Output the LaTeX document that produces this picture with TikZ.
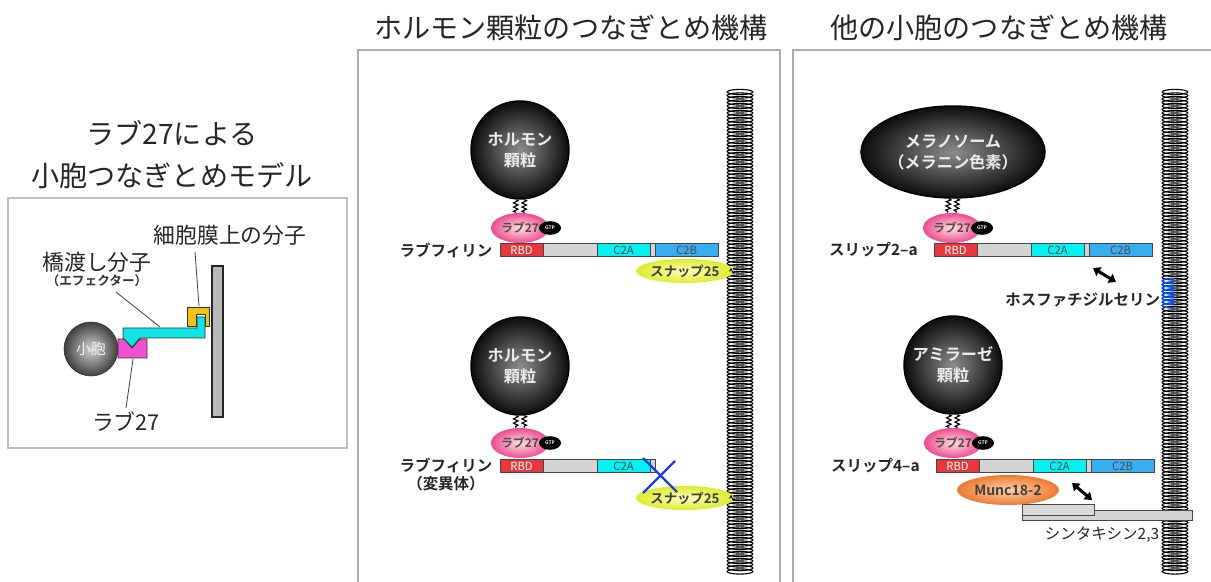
\documentclass[tikz,border=0pt]{standalone}
\usepackage{fontspec}
\setmainfont{Noto Sans CJK JP}[BoldFont={Noto Sans CJK JP Bold}]
\usetikzlibrary{positioning,shapes.geometric,arrows.meta,decorations.pathmorphing}

\definecolor{rbdred}{HTML}{E8363A}
\definecolor{linkgray}{HTML}{D4D4D4}
\definecolor{c2acyan}{HTML}{00F2F2}
\definecolor{c2bblue}{HTML}{38AEF2}
\definecolor{rabpink}{HTML}{EC4C92}
\definecolor{snapyel}{HTML}{DDEC2C}
\definecolor{muncorg}{HTML}{EE7A34}
\definecolor{effcyan}{HTML}{10E4E4}
\definecolor{rabmag}{HTML}{F050D2}
\definecolor{pmyel}{HTML}{F2C218}
\definecolor{crossblue}{HTML}{1E3CE6}

\begin{document}
\begin{tikzpicture}[x=0.025cm,y=-0.025cm,
	title/.style={font=\fontsize{20}{24}\selectfont, text=black!85},
	panel/.style={draw=gray!65, line width=1pt},
	granule/.style={circle, minimum size=2.45cm, inner sep=0, draw=black, line width=1pt,
		inner color=black!45, outer color=black!95, text=white!85!gray, align=center,
		font=\bfseries\fontsize{11.5}{15}\selectfont},
	rab/.style={ellipse, minimum width=1.45cm, minimum height=0.75cm, inner sep=0,
		inner color=pink!50!white, outer color=rabpink, text=black!70,
		font=\bfseries\fontsize{8.5}{9}\selectfont},
	gtp/.style={ellipse, fill=black, minimum width=0.55cm, minimum height=0.34cm, inner sep=0,
		text=white, font=\bfseries\fontsize{3.5}{4}\selectfont},
	dom/.style={rectangle, draw=gray!55!black, line width=0.4pt, minimum height=0.32cm,
		inner sep=0, outer sep=0, font=\fontsize{8}{9}\selectfont},
	rbd/.style={dom, fill=rbdred, text=white, minimum width=1.075cm},
	linker/.style={dom, fill=linkgray, minimum width=1.35cm},
	c2a/.style={dom, fill=c2acyan, text=black!70, minimum width=1.325cm},
	gapd/.style={dom, fill=linkgray, minimum width=0.125cm},
	c2b/.style={dom, fill=c2bblue, text=black!70, minimum width=1.575cm},
	protname/.style={font=\bfseries\fontsize{11}{13}\selectfont, text=black!85, align=center},
	snap/.style={ellipse, minimum width=1.95cm, minimum height=0.6cm, inner sep=0,
		inner color=yellow!25!white, outer color=snapyel, text=black!75,
		font=\bfseries\fontsize{9.5}{11}\selectfont},
	tether/.style={decorate, decoration={zigzag, segment length=3pt, amplitude=1.6pt}, line width=0.8pt},
	coil/.style={line width=0.8pt, draw=black},
	bind/.style={{Triangle[width=7pt,length=5pt]}-{Triangle[width=7pt,length=5pt]}, line width=2.2pt},
	leader/.style={draw=gray!55!black, line width=0.6pt},
	tag/.style={font=\fontsize{15.5}{18}\selectfont, text=black!85}]

	\useasboundingbox (0,0) rectangle (1211,582);

	% titles and frames
	\node[title] (tL1) at (172,133) {ラブ27による};
	\node[title] (tL2) at (172,176) {小胞つなぎとめモデル};
	\node[title] (tM) at (571,28) {ホルモン顆粒のつなぎとめ機構};
	\node[title] (tR) at (999,28) {他の小胞のつなぎとめ機構};

	\draw[panel, draw=gray!50] (8,198) rectangle (347,448);
	\draw[panel] (358,582) |- (780,50) -- (780,582);
	\draw[panel] (793,582) |- (1211,50);

	% model: vesicle, rab27, effector, membrane molecule
	\filldraw[fill=gray!55, draw=gray!30!black, line width=0.8pt] (212,266) rectangle (223,417);
	\node[circle, minimum size=1.35cm, inner sep=0, draw=black!80, inner color=gray!35,
		outer color=black!75, text=white!90!gray, font=\fontsize{10.5}{12}\selectfont] (ves) at (91,349) {小胞};
	\filldraw[fill=pmyel, draw=gray!40!black, line width=0.5pt]
		(187,307) -- (209,307) -- (209,326) -- (205,326) -- (205,314) -- (196,314) -- (196,326) -- (187,326) -- cycle;
	\filldraw[fill=rabmag, draw=gray!40!black, line width=0.5pt]
		(118,339) -- (124,339) -- (132,348) -- (140,339) -- (147,339) -- (147,358) -- (118,358) -- cycle;
	\filldraw[fill=effcyan, draw=gray!40!black, line width=0.5pt]
		(123,328) -- (197,328) -- (197,317) -- (205,317) -- (205,338) -- (140,338) -- (132,347) -- (123,338) -- cycle;
	\coordinate (pmtip) at (199,306);
	\coordinate (efftip) at (160,327);
	\coordinate (rabtip) at (133,359);
	\node[tag] (pmlab) at (230,235) {細胞膜上の分子};
	\node[tag] (efflab) at (97,262) {橋渡し分子};
	\node[font=\bfseries\fontsize{9}{10}\selectfont, text=black!80] (efflab2) at (97,281) {（エフェクター）};
	\node[tag] (rablab) at (126,422) {ラブ27};
	\draw[leader] (pmlab.south) ++(-35,2) -- (pmtip);
	\draw[leader] (efflab2.south) ++(19,0) -- (efftip);
	\draw[leader] (rablab.north) ++(0,1) -- (rabtip);

	% plasma membranes
	\foreach \cy in {92,95.5,...,572}{
		\draw[coil] (740,\cy) ellipse [x radius=0.32cm, y radius=0.065cm];
		\draw[coil] (1175,\cy) ellipse [x radius=0.32cm, y radius=0.065cm];
	}
	\begin{scope}
		\clip (1160,278) rectangle (1174,309);
		\foreach \cy in {281,284.5,...,306}
			\draw[line width=0.9pt, draw=blue!70!cyan] (1175,\cy) ellipse [x radius=0.32cm, y radius=0.065cm];
	\end{scope}

	% rabphilin (wild type)
	\node[granule] (hg1) at (520,150) {ホルモン\\顆粒};
	\node[rab] (rab1) at (520,228) {ラブ27};
	\node[gtp] (gtp1) at (550,228) {GTP};
	\draw[tether] ([xshift=-3]hg1.south) -- ([xshift=-3]rab1.north);
	\draw[tether] ([xshift=3]hg1.south) -- ([xshift=3]rab1.north);
	\node[rbd] (rbd1) at (521.5,250) {RBD};
	\node[linker, right=0pt of rbd1] (lk1) {};
	\node[c2a, right=0pt of lk1] (ca1) {C2A};
	\node[gapd, right=0pt of ca1] (gp1) {};
	\node[c2b, right=0pt of gp1] (cb1) {C2B};
	\node[protname, left=2pt of rbd1] (rph1) {ラブフィリン};
	\node[snap] (sn1) at (685,271) {スナップ25};
	\coordinate (mem1) at (729,271);
	\draw[tether, line width=0.6pt] (sn1.east) -- (mem1);

	% rabphilin (mutant)
	\node[granule] (hg2) at (520,366) {ホルモン\\顆粒};
	\node[rab] (rab2) at (520,443) {ラブ27};
	\node[gtp] (gtp2) at (550,443) {GTP};
	\draw[tether] ([xshift=-3]hg2.south) -- ([xshift=-3]rab2.north);
	\draw[tether] ([xshift=3]hg2.south) -- ([xshift=3]rab2.north);
	\node[rbd] (rbd2) at (521.5,466) {RBD};
	\node[linker, right=0pt of rbd2] (lk2) {};
	\node[c2a, right=0pt of lk2] (ca2) {C2A};
	\node[gapd, right=0pt of ca2] (gp2) {};
	\node[protname, left=2pt of rbd2, yshift=-6] (rph2) {ラブフィリン\\（変異体）};
	\node[snap] (sn2) at (685,498) {スナップ25};
	\coordinate (mem2) at (729,498);
	\draw[tether, line width=0.6pt] (sn2.east) -- (mem2);
	\draw[crossblue, line width=1.6pt] (643,458) -- (677,492) (675,461) -- (643,493);

	% slp2-a
	\node[ellipse, minimum width=4.6cm, minimum height=2.3cm, inner sep=0, draw=black, line width=1pt,
		inner color=black!45, outer color=black!95, text=white!85!gray, align=center,
		font=\bfseries\fontsize{11.5}{15}\selectfont] (mel) at (953,152) {メラノソーム\\（メラニン色素）};
	\node[rab] (rab3) at (952,228) {ラブ27};
	\node[gtp] (gtp3) at (982,228) {GTP};
	\draw[tether] ([xshift=-3]mel.south) -- ([xshift=-3]rab3.north);
	\draw[tether] ([xshift=3]mel.south) -- ([xshift=3]rab3.north);
	\node[rbd] (rbd3) at (955.5,250) {RBD};
	\node[linker, right=0pt of rbd3] (lk3) {};
	\node[c2a, right=0pt of lk3] (ca3) {C2A};
	\node[gapd, right=0pt of ca3] (gp3) {};
	\node[c2b, right=0pt of gp3] (cb3) {C2B};
	\node[protname, left=8pt of rbd3] (slp2) {スリップ2–a};
	\coordinate (ps1) at (1093,268);
	\coordinate (ps2) at (1116,282);
	\draw[bind] (ps1) -- (ps2);
	\node[protname, anchor=east] (pslab) at (1165,300) {ホスファチジルセリン};

	% slp4-a
	\node[granule] (ag) at (953,365) {アミラーゼ\\顆粒};
	\node[rab] (rab4) at (953,443) {ラブ27};
	\node[gtp] (gtp4) at (983,443) {GTP};
	\draw[tether] ([xshift=-3]ag.south) -- ([xshift=-3]rab4.north);
	\draw[tether] ([xshift=3]ag.south) -- ([xshift=3]rab4.north);
	\node[rbd] (rbd4) at (957.5,466) {RBD};
	\node[linker, right=0pt of rbd4] (lk4) {};
	\node[c2a, right=0pt of lk4] (ca4) {C2A};
	\node[gapd, right=0pt of ca4] (gp4) {};
	\node[c2b, right=0pt of gp4] (cb4) {C2B};
	\node[protname, left=8pt of rbd4] (slp4) {スリップ4–a};
	\filldraw[fill=linkgray, draw=gray!55!black, line width=0.5pt] (1022,510) rectangle (1192,520);
	\filldraw[fill=linkgray!85!white, draw=gray!55!black, line width=0.5pt] (1022,504) rectangle (1094,515);
	\node[ellipse, minimum width=2.55cm, minimum height=0.75cm, inner sep=0,
		inner color=orange!35!white, outer color=muncorg, text=black!75,
		font=\bfseries\fontsize{10}{12}\selectfont] (munc) at (1008,490) {Munc18-2};
	\coordinate (stx1) at (1072,483);
	\coordinate (stx2) at (1092,500);
	\draw[bind] (stx1) -- (stx2);
	\node[font=\fontsize{11}{13}\selectfont, text=black!85] (stxlab) at (1102,535) {シンタキシン2,3};
\end{tikzpicture}
\end{document}
